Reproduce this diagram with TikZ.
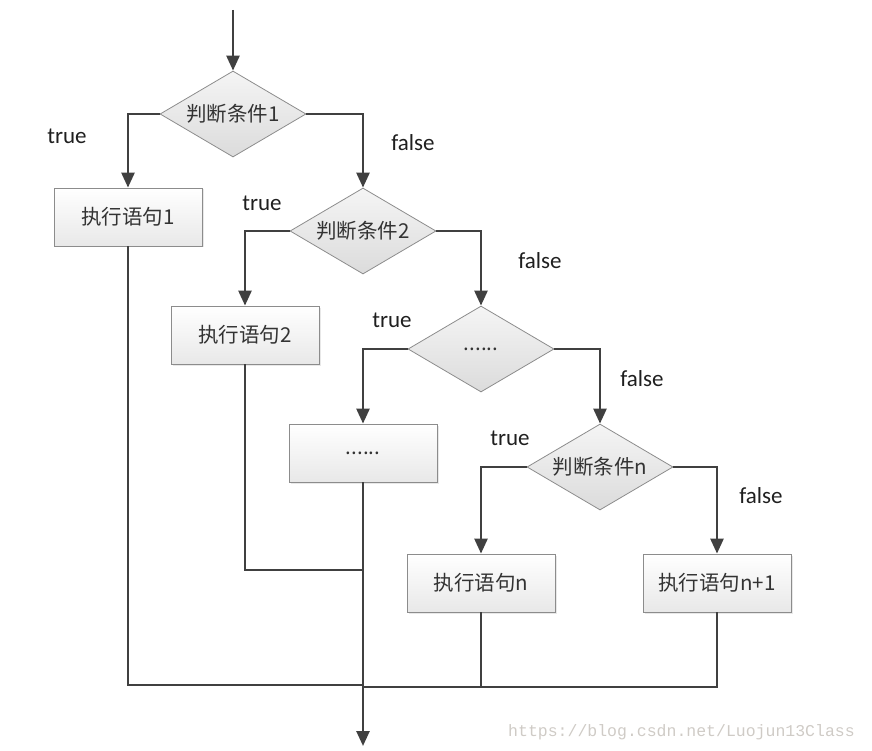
\documentclass[tikz,border=0pt]{standalone}
\usepackage{fontspec}
\setmainfont{Carlito}
\newfontfamily\cjk{Noto Sans CJK SC}
\newfontfamily\wmfont{Liberation Mono}
\usetikzlibrary{shapes.geometric,arrows.meta,shadows}
\definecolor{linecol}{HTML}{404040}
\definecolor{bordcol}{HTML}{8C8C8C}
\definecolor{txtcol}{HTML}{333333}
\definecolor{wmcol}{HTML}{CFCBC6}
\tikzset{
  conn/.style={draw=linecol, line width=2.6pt},
  arr/.style={-{Triangle[length=15pt,width=13pt]}},
  stmt/.style={rectangle, draw=bordcol, line width=0.8pt, top color=white, bottom color=black!9,
    minimum width=148pt, minimum height=58pt, inner sep=0pt,
    font=\cjk\fontsize{20.5}{22}\selectfont, text=txtcol,
    drop shadow={opacity=0.18, shadow xshift=1.5pt, shadow yshift=-1.5pt}},
  cond/.style={diamond, draw=bordcol, line width=0.8pt, top color=black!4, bottom color=black!14,
    minimum width=146pt, minimum height=86pt, inner sep=0pt, shape aspect=1.7,
    font=\cjk\fontsize{20.5}{22}\selectfont, text=txtcol},
  lbl/.style={font=\fontsize{23}{26}\selectfont, text=black!88, inner sep=0pt},
}
\begin{document}
\begin{tikzpicture}[x=1pt,y=-1pt]
\useasboundingbox (0,0) rectangle (872,751);
% decisions
\node[cond] (d1) at (233,114) {判断条件1};
\node[cond] (d2) at (363,231) {判断条件2};
\node[cond] (d3) at (481,349) {......};
\node[cond] (dn) at (600,467) {判断条件n};
% statements
\node[stmt] (b1) at (128,217) {执行语句1};
\node[stmt] (b2) at (245,335) {执行语句2};
\node[stmt] (b3) at (363,453) {......};
\node[stmt] (bn) at (481,583) {执行语句n};
\node[stmt] (bn1) at (717,583) {执行语句n+1};
% labels
\node[lbl] (t1) at (67,136) {true};
\node[lbl] (f1) at (413,143) {false};
\node[lbl] (t2) at (262,203) {true};
\node[lbl] (f2) at (540,261) {false};
\node[lbl] (t3) at (392,320) {true};
\node[lbl] (f3) at (642,379) {false};
\node[lbl] (tn) at (510,438) {true};
\node[lbl] (fn) at (761,496) {false};
% coordinates
\coordinate (start) at (233,10);
\coordinate (end) at (363,746);
\coordinate (j1) at (363,685);
\coordinate (j2) at (363,570);
\coordinate (j3) at (363,687);
% connectors
\draw[conn,arr] (start) -- (d1.north);
\draw[conn,arr] (d1.west) -| (b1.north);
\draw[conn,arr] (d1.east) -| (d2.north);
\draw[conn,arr] (d2.west) -| (b2.north);
\draw[conn,arr] (d2.east) -| (d3.north);
\draw[conn,arr] (d3.west) -| (b3.north);
\draw[conn,arr] (d3.east) -| (dn.north);
\draw[conn,arr] (dn.west) -| (bn.north);
\draw[conn,arr] (dn.east) -| (bn1.north);
\draw[conn] (b1.south) |- (j1);
\draw[conn] (b2.south) |- (j2);
\draw[conn,arr] (b3.south) -- (end);
\draw[conn] (j3) -| (bn1.south);
\draw[conn] (bn.south) -- (bn.south |- j3);
% watermark
\node[anchor=west, inner sep=0pt, text=wmcol, font=\wmfont\fontsize{16.5}{18}\selectfont] (wm) at (508,732) {https://blog.csdn.net/Luojun13Class};
\end{tikzpicture}
\end{document}
